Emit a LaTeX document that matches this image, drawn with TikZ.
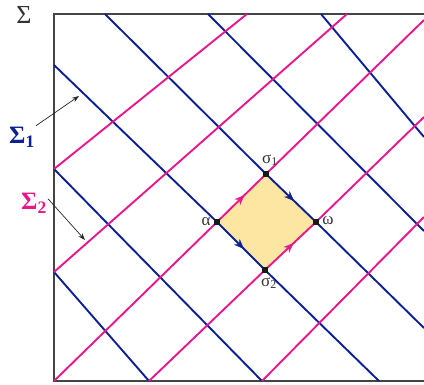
\documentclass[tikz,border=0pt]{standalone}
\usepackage{fontspec}
\setmainfont{Liberation Serif}
\usepackage{xcolor}
\usepackage{tikz}
\usetikzlibrary{arrows.meta,decorations.markings}
\definecolor{sigblue}{HTML}{0B2193}
\definecolor{sigpink}{HTML}{E8188C}
\definecolor{patch}{HTML}{FDE6A2}
\definecolor{edge}{HTML}{444444}
\tikzset{
  >={Stealth[length=7pt,width=5pt]},
  border/.style={draw=edge,line width=1.1pt},
  bluechar/.style={draw=sigblue,line width=1.9pt},
  pinkchar/.style={draw=sigpink,line width=1.9pt},
  corner/.style={fill=black!90,minimum size=6pt,inner sep=0pt},
  ptlabel/.style={font=\fontsize{17}{17}\selectfont,text=black!80,inner sep=1pt},
  setlabel/.style={font=\fontsize{25}{25}\selectfont\bfseries,inner sep=1pt},
  pointer/.style={->,line width=0.7pt,draw=black!85},
  midarrow/.style={postaction={decorate},decoration={markings,mark=at position 0.56 with {\arrow[#1]{Stealth[length=10pt,width=8pt]}}}}
}

\begin{document}
\begin{tikzpicture}[x=1pt,y=-1pt]
  \useasboundingbox (0,0) rectangle (424,384);
  \clip (0,0) rectangle (424,384);

  % diamond corners
  \coordinate (al) at (217,222);
  \coordinate (s1) at (266,174);
  \coordinate (om) at (316,222);
  \coordinate (s2) at (265,270);
  % where the lines meet the frame
  \coordinate (l1) at (54,65);
  \coordinate (l2) at (54,169);
  \coordinate (l3) at (54,272);
  \coordinate (c0) at (54,381);
  \coordinate (d1) at (149,381);
  \coordinate (d2) at (262,381);
  \coordinate (d3) at (379,381);
  \coordinate (t1) at (105,14);
  \coordinate (t2) at (208,14);
  \coordinate (t3) at (247,14);
  \coordinate (t4) at (321,14);
  \coordinate (t5) at (347,14);
  \coordinate (r1) at (424,20);
  \coordinate (r2) at (424,117);
  \coordinate (r3) at (424,137);
  \coordinate (r4) at (424,217);
  \coordinate (r5) at (424,231);
  \coordinate (r6) at (424,328);

  \fill[patch] (al) -- (s1) -- (om) -- (s2) -- cycle;

  \draw[border] (424,14) -| (c0) -- (424,381);

  \draw[bluechar] (l1) -- (al) -- (s2) -- (d3);
  \draw[bluechar] (t1) -- (s1) -- (om) -- (r6);
  \draw[bluechar] (t2) -- (r5);
  \draw[bluechar] (t4) -- (r3);
  \draw[bluechar] (l2) -- (d2);
  \draw[bluechar] (l3) -- (d1);

  \draw[pinkchar] (c0) -- (al) -- (s1) -- (r1);
  \draw[pinkchar] (d1) -- (s2) -- (om) -- (r2);
  \draw[pinkchar] (l2) -- (t3);
  \draw[pinkchar] (l3) -- (t5);
  \draw[pinkchar] (d2) -- (r4);

  \path[midarrow=sigpink] (al) -- (s1);
  \path[midarrow=sigpink] (s2) -- (om);
  \path[midarrow=sigblue] (s1) -- (om);
  \path[midarrow=sigblue] (al) -- (s2);

  \node[corner] (alpha) at (al) {};
  \node[corner] (sigma1) at (s1) {};
  \node[corner] (omega) at (om) {};
  \node[corner] (sigma2) at (s2) {};

  \node[ptlabel] (alab) at (206,222) {α};
  \node[ptlabel] (olab) at (328,221) {ω};
  \node[ptlabel] (s1lab) at (270,160) {σ\textsubscript{1}};
  \node[ptlabel] (s2lab) at (269,283) {σ\textsubscript{2}};

  \node[font=\fontsize{26}{26}\selectfont,text=black!80,inner sep=1pt] (whole) at (24,15) {Σ};
  \node[setlabel,text=sigblue] (lab1) at (22,137) {Σ\textsubscript{1}};
  \node[setlabel,text=sigpink] (lab2) at (34,203) {Σ\textsubscript{2}};

  \coordinate (tip1) at (79,96);
  \coordinate (tip2) at (85,240);
  \draw[pointer] (lab1.north east) -- (tip1);
  \draw[pointer] ([yshift=-7pt]lab2.north east) -- (tip2);
\end{tikzpicture}
\end{document}
